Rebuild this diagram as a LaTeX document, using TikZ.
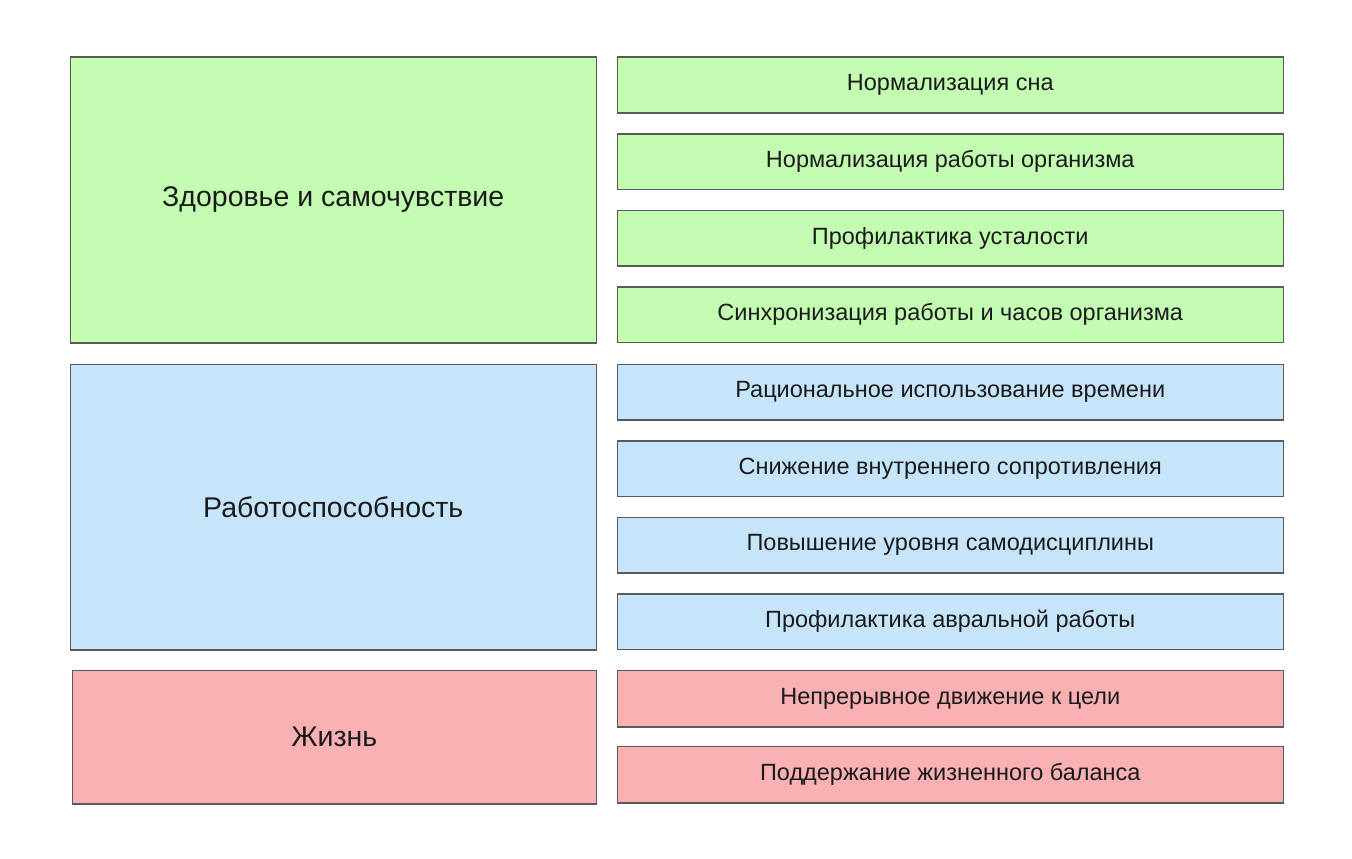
\documentclass[tikz,border=0pt]{standalone}
\usepackage{fontspec}
\setmainfont{Liberation Sans}
\definecolor{gfill}{HTML}{C3FDB1}
\definecolor{bfill}{HTML}{C6E5FB}
\definecolor{rfill}{HTML}{F9B1B4}
\definecolor{edge}{HTML}{5A5A5A}
\definecolor{txt}{HTML}{1A1A1A}
\tikzset{
  box/.style={draw=edge, line width=1.5pt, anchor=north west, inner sep=0pt, text=txt},
  small/.style={box, minimum width=666pt, minimum height=55.5pt, font=\fontsize{23.5}{28}\selectfont},
  big/.style={box, font=\fontsize{28.5}{34}\selectfont},
}
\begin{document}
\begin{tikzpicture}[x=1pt,y=-1pt]
\useasboundingbox[fill=white] (0,0) rectangle (1352,859);
% big boxes
\node[big, fill=gfill, minimum width=526pt, minimum height=285.5pt] (health) at (69.5,56.5) {Здоровье и самочувствие};
\node[big, fill=bfill, minimum width=526pt, minimum height=285.5pt] (work) at (69.5,363.5) {Работоспособность};
\node[big, fill=rfill, minimum width=524pt, minimum height=133.5pt] (life) at (71.5,669.5) {Жизнь};
% green rows
\node[small, fill=gfill] (g1) at (616.5,56.5) {Нормализация сна};
\node[small, fill=gfill] (g2) at (616.5,133) {Нормализация работы организма};
\node[small, fill=gfill] (g3) at (616.5,209.5) {Профилактика усталости};
\node[small, fill=gfill] (g4) at (616.5,286) {Синхронизация работы и часов организма};
% blue rows
\node[small, fill=bfill] (b1) at (616.5,363.5) {Рациональное использование времени};
\node[small, fill=bfill] (b2) at (616.5,440) {Снижение внутреннего сопротивления};
\node[small, fill=bfill] (b3) at (616.5,516.5) {Повышение уровня самодисциплины};
\node[small, fill=bfill] (b4) at (616.5,593) {Профилактика авральной работы};
% red rows
\node[small, fill=rfill, minimum height=56.5pt] (r1) at (616.5,669.5) {Непрерывное движение к цели};
\node[small, fill=rfill, minimum height=56.5pt] (r2) at (616.5,745.5) {Поддержание жизненного баланса};
\end{tikzpicture}
\end{document}
